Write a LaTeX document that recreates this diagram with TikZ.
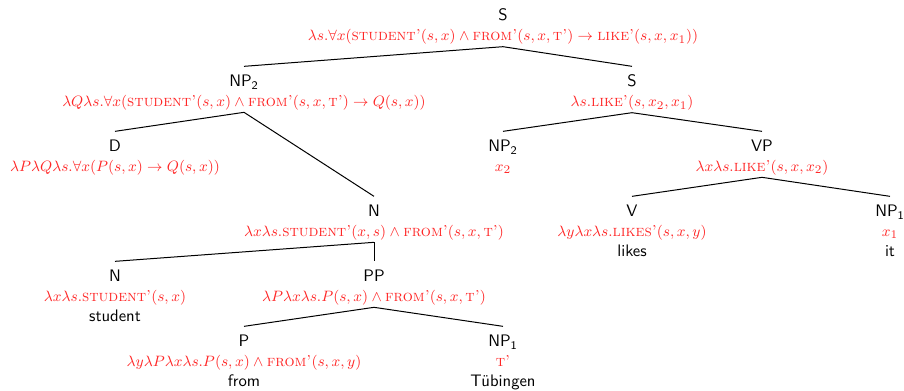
\documentclass[tikz,border=0pt]{standalone}
\usepackage{amssymb}
\newcommand\prd[1]{\textrm{\textsc{#1}}}
\newcommand\sem[1]{{\fontsize{9.5pt}{12pt}\selectfont\textcolor{semred}{$#1$}}}
\colorlet{semred}{red!85}
\begin{document}
\begin{tikzpicture}[x=0.6pt,y=-0.6pt,
  tn/.style={align=center, anchor=north, inner sep=1pt, font=\sffamily},
  br/.style={line width=0.6pt}]
\useasboundingbox (0,0) rectangle (904,390);
\node[tn] (s0) at (503,7) {S\\ \sem{\lambda s.\forall x(\prd{student'}(s,x)\wedge\prd{from'}(s,x,\prd{t'})\rightarrow\prd{like'}(s,x,x_1))}};
\node[tn] (np2a) at (244,73) {NP\textsubscript{2}\\ \sem{\lambda Q\lambda s.\forall x(\prd{student'}(s,x)\wedge\prd{from'}(s,x,\prd{t'})\rightarrow Q(s,x))}};
\node[tn] (s1) at (632,73) {S\\ \sem{\lambda s.\prd{like'}(s,x_2,x_1)}};
\node[tn] (d) at (115,138) {D\\ \sem{\lambda P\lambda Q\lambda s.\forall x(P(s,x)\rightarrow Q(s,x))}};
\node[tn] (np2b) at (503,138) {NP\textsubscript{2}\\ \sem{x_2}};
\node[tn] (vp) at (762,138) {VP\\ \sem{\lambda x\lambda s.\prd{like'}(s,x,x_2)}};
\node[tn] (n1) at (374,203) {N\\ \sem{\lambda x\lambda s.\prd{student'}(x,s)\wedge\prd{from'}(s,x,\prd{t'})}};
\node[tn] (v) at (632,203) {V\\ \sem{\lambda y\lambda x\lambda s.\prd{likes'}(s,x,y)}\\ likes};
\node[tn] (np1a) at (890,203) {NP\textsubscript{1}\\ \sem{x_1}\\ it};
\node[tn] (n2) at (115,268) {N\\ \sem{\lambda x\lambda s.\prd{student'}(s,x)}\\ student};
\node[tn] (pp) at (374,268) {PP\\ \sem{\lambda P\lambda x\lambda s.P(s,x)\wedge\prd{from'}(s,x,\prd{t'})}};
\node[tn] (p) at (244,333) {P\\ \sem{\lambda y\lambda P\lambda x\lambda s.P(s,x)\wedge\prd{from'}(s,x,y)}\\ from};
\node[tn] (np1b) at (503,333) {NP\textsubscript{1}\\ \sem{\prd{t'}}\\ Tübingen};
\foreach \a/\b in {s0/np2a,s0/s1,np2a/d,np2a/n1,s1/np2b,s1/vp,vp/v,vp/np1a,n1/n2,n1/pp,pp/p,pp/np1b}
  \draw[br] (\a.south) -- ([yshift=4pt]\b.north);
\end{tikzpicture}
\end{document}
